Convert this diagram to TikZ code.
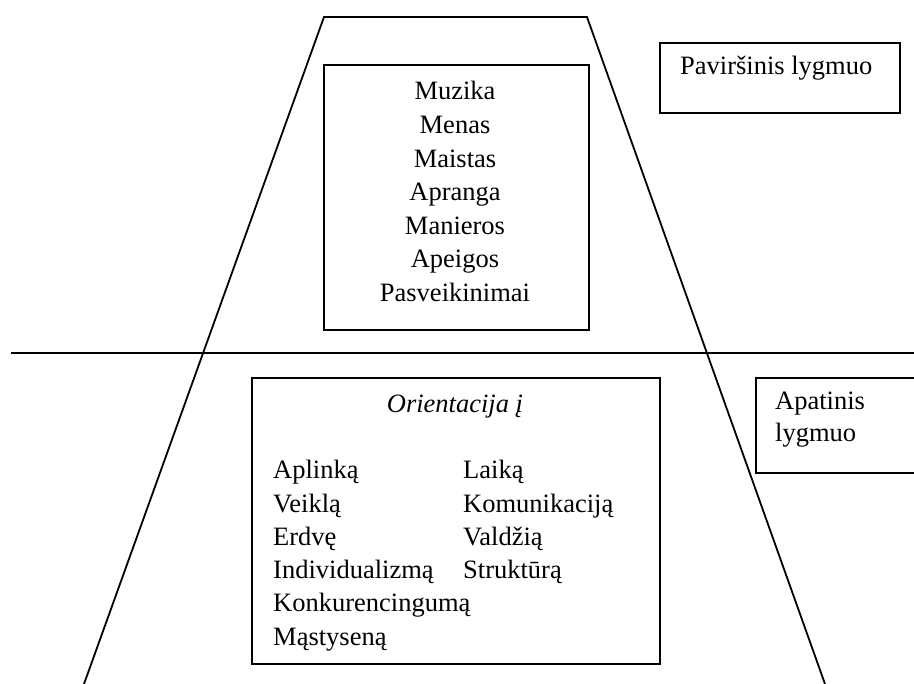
\documentclass[tikz,border=0pt]{standalone}
\usepackage{fontspec}
\setmainfont{Liberation Serif}
\begin{document}
\begin{tikzpicture}[x=1pt,y=-1pt,
  frame/.style={line width=1.8pt},
  box/.style={draw, line width=1.8pt, inner sep=0pt, anchor=north west},
  word/.style={inner sep=0pt, font=\fontsize{26.5}{33.5}\selectfont},
  cword/.style={word, anchor=base},
  lword/.style={word, anchor=base west}]
\useasboundingbox (0,0) rectangle (914,684);
\clip (0,0) rectangle (914,684);

% iceberg outline and water line
\coordinate (bl) at (84,684);
\coordinate (tl) at (324,17);
\coordinate (tr) at (587,17);
\coordinate (br) at (825,684);
\draw[frame] (bl) -- (tl) -- (tr) -- (br);
\coordinate (wl) at (11,353);
\coordinate (wr) at (914,353);
\draw[frame] (wl) -- (wr);

% surface level
\node[box, minimum width=265pt, minimum height=265pt] (surface) at (323,64) {};
\foreach \w [count=\i] in {Muzika,Menas,Maistas,Apranga,Manieros,Apeigos,Pasveikinimai}
  \node[cword] (s\i) at (455,{100+33.6*(\i-1)}) {\w};

\node[box, minimum width=240pt, minimum height=70pt] (surflabel) at (659,42) {};
\node[lword] (surftext) at (680,75) {Paviršinis lygmuo};

% deep level
\node[box, minimum width=408pt, minimum height=286pt] (deep) at (251,377) {};
\node[cword, font=\fontsize{26.5}{33.5}\selectfont\itshape] (orient) at (455,413) {Orientacija į};
\foreach \w [count=\i] in {Aplinką,Veiklą,Erdvę,Individualizmą,Konkurencingumą,Mąstyseną}
  \node[lword] (l\i) at (273,{479+33.2*(\i-1)}) {\w};
\foreach \w [count=\i] in {Laiką,Komunikaciją,Valdžią,Struktūrą}
  \node[lword] (r\i) at (463,{479+33.2*(\i-1)}) {\w};

\node[box, minimum width=170pt, minimum height=95pt] (deeplabel) at (755,377) {};
\node[lword] (deeptext1) at (775,410) {Apatinis};
\node[lword] (deeptext2) at (775,442) {lygmuo};
\end{tikzpicture}
\end{document}
